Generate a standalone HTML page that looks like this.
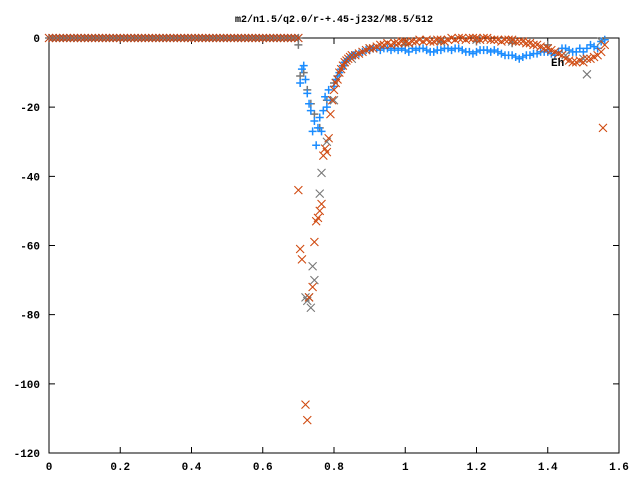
<!DOCTYPE html>
<html><head><meta charset="utf-8"><style>
body{margin:0;background:#fff}
svg{display:block}
text{font-family:"Liberation Mono",monospace;font-size:11px;font-weight:bold;fill:#000}
</style></head><body>
<svg id="chart" width="640" height="480" xmlns="http://www.w3.org/2000/svg">
<text x="334" y="22" text-anchor="middle" style="font-size:10px">m2/n1.5/q2.0/r-+.45-j232/M8.5/512</text>
<g id="axes"></g><g id="marks"></g>
<text x="551" y="66">Eh</text>
</svg>
<script>
const xTicks=[0,0.2,0.4,0.6,0.8,1,1.2,1.4,1.6];
const yTicks=[0,-20,-40,-60,-80,-100,-120];
const flatX=[0,0.01,0.02,0.03,0.04,0.05,0.06,0.07,0.08,0.09,0.1,0.11,0.12,0.13,0.14,0.15,0.16,0.17,0.18,0.19,0.2,0.21,0.22,0.23,0.24,0.25,0.26,0.27,0.28,0.29,0.3,0.31,0.32,0.33,0.34,0.35,0.36,0.37,0.38,0.39,0.4,0.41,0.42,0.43,0.44,0.45,0.46,0.47,0.48,0.49,0.5,0.51,0.52,0.53,0.54,0.55,0.56,0.57,0.58,0.59,0.6,0.61,0.62,0.63,0.64,0.65,0.66,0.67,0.68,0.69,0.7];
const blueX=[0.705,0.71,0.715,0.72,0.725,0.73,0.735,0.74,0.745,0.75,0.755,0.76,0.765,0.77,0.775,0.78,0.785,0.79,0.8,0.805,0.81,0.815,0.82,0.825,0.83,0.835,0.84,0.845,0.85,0.855,0.86,0.87,0.88,0.89,0.9,0.91,0.92,0.93,0.94,0.95,0.96,0.97,0.98,0.99,1.0,1.01,1.02,1.03,1.04,1.05,1.06,1.07,1.08,1.09,1.1,1.11,1.12,1.13,1.14,1.15,1.16,1.17,1.18,1.19,1.2,1.21,1.22,1.23,1.24,1.25,1.26,1.27,1.28,1.29,1.3,1.31,1.32,1.33,1.34,1.35,1.36,1.37,1.38,1.39,1.4,1.41,1.42,1.43,1.44,1.45,1.46,1.47,1.48,1.49,1.5,1.51,1.52,1.53,1.54,1.55,1.56];
const blueY=[-13,-9,-8,-12,-16,-19,-21,-27,-24,-31,-26,-23,-27,-21,-17,-20,-15,-18,-14,-12,-11,-10,-9,-8,-7,-6.5,-6,-5.5,-5,-5,-5,-4.5,-4,-3.5,-3.5,-3,-3,-3.5,-3,-3,-3.5,-3,-3.5,-3,-3.5,-4,-3,-3.5,-3,-3,-3.5,-4,-4,-3.5,-3.5,-3,-3,-3.5,-3,-3,-3.5,-4,-4,-4.5,-4,-3.5,-3.5,-3.5,-4,-3.5,-4,-4.5,-5,-5,-5,-5.5,-6,-5.5,-5,-5,-4.5,-4.5,-4,-4,-4,-4.5,-5,-4,-3,-3,-3.5,-4,-4,-3,-4,-3,-2,-2.5,-3,-1,-0.5];
const greyPlusX=[0.7,0.705,0.715,0.725,0.735,0.745,0.76,0.78,0.8,0.83,0.86,0.9,1.0,1.1,1.2,1.3,1.4];
const greyPlusY=[-2,-11,-10,-15,-19,-22,-26,-18,-13,-8,-5,-3,-2,-1,-1,-1.5,-2];
const orangeX=[0.7,0.705,0.71,0.72,0.725,0.73,0.74,0.745,0.75,0.755,0.76,0.765,0.77,0.775,0.78,0.785,0.79,0.795,0.8,0.805,0.81,0.815,0.82,0.825,0.83,0.835,0.84,0.845,0.85,0.86,0.87,0.88,0.89,0.9,0.91,0.92,0.93,0.94,0.95,0.96,0.97,0.98,0.99,1.0,1.01,1.02,1.03,1.04,1.05,1.06,1.07,1.08,1.09,1.1,1.11,1.12,1.13,1.14,1.15,1.16,1.17,1.18,1.19,1.2,1.21,1.22,1.23,1.24,1.25,1.26,1.27,1.28,1.29,1.3,1.31,1.32,1.33,1.34,1.35,1.36,1.37,1.38,1.39,1.4,1.41,1.42,1.43,1.44,1.45,1.46,1.47,1.48,1.49,1.5,1.51,1.52,1.53,1.54,1.55,1.555,1.56];
const orangeY=[-44,-61,-64,-106,-110.5,-75,-72,-59,-53,-52,-50,-48,-34,-32,-33,-29,-22,-18,-15,-13,-12,-10,-9,-8,-7,-6.5,-6,-5.5,-5,-5,-4.5,-4,-3.5,-3,-3,-2.5,-2,-2,-1.5,-2,-1.5,-1.5,-1,-1,-1.5,-1,-1,-0.5,-1,-0.5,-1,-1,-0.5,-0.5,-1,-0.5,0,-0.5,0,0,-0.5,0,0,0,-0.5,0,0,-0.5,-0.5,-0.5,-1,-0.5,-0.5,-0.5,-1,-1,-1,-1.5,-1.5,-2,-2,-2.5,-3,-3,-3.5,-4,-4.5,-5,-6,-6.5,-7,-7,-6.5,-7,-6,-6,-5.5,-5,-4,-26,-2];
const greyXX=[0.72,0.725,0.73,0.735,0.74,0.745,0.76,0.765,0.78,0.8,0.85,0.9,1.0,1.1,1.2,1.3,1.4,1.45,1.5,1.51,1.55];
const greyXY=[-75,-76,-75,-78,-66,-70,-45,-39,-30,-18,-6,-3,-1.5,-1,-0.5,-1,-3,-5,-6,-10.5,-1];
const X0=49,X1=619,Y0=38,Y1=453;
const sx=v=>X0+(v-0)/(1.6)*(X1-X0);
const sy=v=>Y0+(0-v)/120*(Y1-Y0);
const NS="http://www.w3.org/2000/svg";
const ax=document.getElementById('axes'),mk=document.getElementById('marks');
function el(t,a,p){const e=document.createElementNS(NS,t);for(const k in a)e.setAttribute(k,a[k]);p.appendChild(e);return e;}
const fr=el('rect',{x:X0,y:Y0,width:X1-X0,height:Y1-Y0,fill:'none',stroke:'#000','stroke-width':1},ax);


xTicks.forEach(v=>{const x=sx(v);
const l=el('path',{d:`M${x} ${Y1}v-6M${x} ${Y0}v6`,stroke:'#000'},ax);


const t=el('text',{x:x,y:Y1+17,'text-anchor':'middle'},ax);t.textContent=String(v);

});
yTicks.forEach(v=>{const y=sy(v);
const l=el('path',{d:`M${X0} ${y}h6M${X1} ${y}h-6`,stroke:'#000'},ax);


const t=el('text',{x:X0-9,y:y+4,'text-anchor':'end'},ax);t.textContent=String(v);

});
function plus(x,y,c,name){const p=el('path',{d:`M${sx(x)-4} ${sy(y)}h8M${sx(x)} ${sy(y)-4}v8`,stroke:c,'stroke-width':1.5},mk);

}
function cross(x,y,c,name){const a=sx(x),b=sy(y);const p=el('path',{d:`M${a-4} ${b-4}l8 8M${a-4} ${b+4}l8 -8`,stroke:c,'stroke-width':1.1},mk);

}
flatX.forEach(x=>{plus(x,0,'#777','grey-plus-point');cross(x,0,'#c44010','orange-cross-point');});
greyPlusX.forEach((x,i)=>plus(x,greyPlusY[i],'#777','grey-plus-point'));
blueX.forEach((x,i)=>plus(x,blueY[i],'#1a8cff','blue-plus-point'));
greyXX.forEach((x,i)=>cross(x,greyXY[i],'#777','grey-cross-point'));
orangeX.forEach((x,i)=>cross(x,orangeY[i],'#d04a10','orange-cross-point'));
</script>
</body></html>
